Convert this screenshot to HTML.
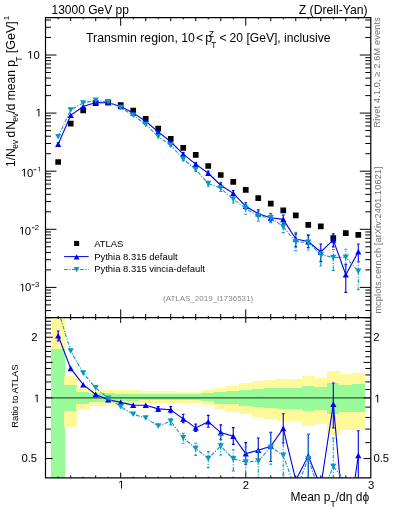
<!DOCTYPE html>
<html><head><meta charset="utf-8"><style>
html,body{margin:0;padding:0;background:#fff;width:393px;height:512px;overflow:hidden;}
#c{position:relative;width:393px;height:512px;font-family:"Liberation Sans", sans-serif;}
svg{will-change:transform;}
text{font-family:"Liberation Sans", sans-serif;}
</style></head><body><div id="c">
<svg width="393" height="512" viewBox="0 0 393 512" style="position:absolute;left:0;top:0">
<defs>
<clipPath id="cm"><rect x="45.5" y="17.55" width="325.3" height="300.05"/></clipPath>
<clipPath id="cr"><rect x="45.5" y="317.6" width="325.3" height="160.29999999999995"/></clipPath>
</defs>
<g clip-path="url(#cr)" shape-rendering="crispEdges">
<rect x="51.42" y="317.60" width="13.51" height="160.40" fill="#fff99c"/>
<rect x="51.42" y="349.00" width="13.51" height="129.00" fill="#98fa98"/>
<rect x="63.93" y="375.80" width="13.51" height="51.00" fill="#fff99c"/>
<rect x="63.93" y="385.30" width="13.51" height="25.20" fill="#98fa98"/>
<rect x="76.43" y="386.80" width="13.51" height="23.20" fill="#fff99c"/>
<rect x="76.43" y="392.10" width="13.51" height="11.50" fill="#98fa98"/>
<rect x="88.94" y="389.80" width="13.51" height="16.50" fill="#fff99c"/>
<rect x="88.94" y="392.90" width="13.51" height="9.20" fill="#98fa98"/>
<rect x="101.44" y="389.60" width="13.51" height="16.50" fill="#fff99c"/>
<rect x="101.44" y="393.00" width="13.51" height="8.50" fill="#98fa98"/>
<rect x="113.95" y="390.40" width="13.51" height="13.00" fill="#fff99c"/>
<rect x="113.95" y="393.50" width="13.51" height="7.10" fill="#98fa98"/>
<rect x="126.45" y="390.40" width="13.50" height="13.00" fill="#fff99c"/>
<rect x="126.45" y="393.50" width="13.50" height="7.10" fill="#98fa98"/>
<rect x="138.96" y="391.20" width="13.51" height="11.60" fill="#fff99c"/>
<rect x="138.96" y="393.80" width="13.51" height="6.40" fill="#98fa98"/>
<rect x="151.46" y="391.20" width="13.51" height="11.60" fill="#fff99c"/>
<rect x="151.46" y="393.80" width="13.51" height="6.40" fill="#98fa98"/>
<rect x="163.97" y="391.20" width="13.51" height="11.60" fill="#fff99c"/>
<rect x="163.97" y="393.80" width="13.51" height="6.40" fill="#98fa98"/>
<rect x="176.47" y="391.50" width="13.51" height="11.70" fill="#fff99c"/>
<rect x="176.47" y="394.20" width="13.51" height="6.00" fill="#98fa98"/>
<rect x="188.98" y="391.50" width="13.50" height="11.70" fill="#fff99c"/>
<rect x="188.98" y="394.20" width="13.50" height="6.00" fill="#98fa98"/>
<rect x="201.48" y="390.40" width="13.51" height="14.20" fill="#fff99c"/>
<rect x="201.48" y="393.00" width="13.51" height="8.40" fill="#98fa98"/>
<rect x="213.99" y="387.90" width="13.50" height="20.80" fill="#fff99c"/>
<rect x="213.99" y="392.20" width="13.50" height="11.50" fill="#98fa98"/>
<rect x="226.49" y="386.10" width="13.51" height="25.70" fill="#fff99c"/>
<rect x="226.49" y="390.70" width="13.51" height="13.70" fill="#98fa98"/>
<rect x="239.00" y="383.00" width="13.50" height="31.40" fill="#fff99c"/>
<rect x="239.00" y="389.50" width="13.50" height="16.50" fill="#98fa98"/>
<rect x="251.50" y="381.00" width="13.50" height="36.30" fill="#fff99c"/>
<rect x="251.50" y="389.30" width="13.50" height="17.70" fill="#98fa98"/>
<rect x="264.01" y="379.80" width="13.50" height="39.00" fill="#fff99c"/>
<rect x="264.01" y="388.20" width="13.50" height="19.40" fill="#98fa98"/>
<rect x="276.51" y="378.60" width="13.50" height="42.20" fill="#fff99c"/>
<rect x="276.51" y="388.20" width="13.50" height="20.30" fill="#98fa98"/>
<rect x="289.02" y="378.60" width="13.50" height="42.20" fill="#fff99c"/>
<rect x="289.02" y="388.20" width="13.50" height="20.30" fill="#98fa98"/>
<rect x="301.52" y="375.70" width="13.50" height="50.60" fill="#fff99c"/>
<rect x="301.52" y="385.90" width="13.50" height="24.60" fill="#98fa98"/>
<rect x="314.03" y="377.60" width="13.50" height="46.70" fill="#fff99c"/>
<rect x="314.03" y="386.70" width="13.50" height="23.30" fill="#98fa98"/>
<rect x="326.53" y="371.10" width="13.50" height="64.20" fill="#fff99c"/>
<rect x="326.53" y="383.10" width="13.50" height="31.10" fill="#98fa98"/>
<rect x="339.04" y="373.90" width="13.50" height="55.90" fill="#fff99c"/>
<rect x="339.04" y="384.90" width="13.50" height="27.50" fill="#98fa98"/>
<rect x="351.54" y="373.00" width="13.50" height="56.80" fill="#fff99c"/>
<rect x="351.54" y="384.00" width="13.50" height="28.40" fill="#98fa98"/>
</g>
<line x1="45.5" y1="397.90" x2="370.8" y2="397.90" stroke="#000" stroke-width="1" opacity="0.8"/>
<path d="M45.5 317.78h5.5M370.8 317.78h-5.5M45.5 310.52h5.5M370.8 310.52h-5.5M45.5 304.89h5.5M370.8 304.89h-5.5M45.5 300.29h5.5M370.8 300.29h-5.5M45.5 296.40h5.5M370.8 296.40h-5.5M45.5 293.03h5.5M370.8 293.03h-5.5M45.5 290.06h5.5M370.8 290.06h-5.5M45.5 287.40h11M370.8 287.40h-11M45.5 269.91h5.5M370.8 269.91h-5.5M45.5 259.68h5.5M370.8 259.68h-5.5M45.5 252.42h5.5M370.8 252.42h-5.5M45.5 246.79h5.5M370.8 246.79h-5.5M45.5 242.19h5.5M370.8 242.19h-5.5M45.5 238.30h5.5M370.8 238.30h-5.5M45.5 234.93h5.5M370.8 234.93h-5.5M45.5 231.96h5.5M370.8 231.96h-5.5M45.5 229.30h11M370.8 229.30h-11M45.5 211.81h5.5M370.8 211.81h-5.5M45.5 201.58h5.5M370.8 201.58h-5.5M45.5 194.32h5.5M370.8 194.32h-5.5M45.5 188.69h5.5M370.8 188.69h-5.5M45.5 184.09h5.5M370.8 184.09h-5.5M45.5 180.20h5.5M370.8 180.20h-5.5M45.5 176.83h5.5M370.8 176.83h-5.5M45.5 173.86h5.5M370.8 173.86h-5.5M45.5 171.20h11M370.8 171.20h-11M45.5 153.71h5.5M370.8 153.71h-5.5M45.5 143.48h5.5M370.8 143.48h-5.5M45.5 136.22h5.5M370.8 136.22h-5.5M45.5 130.59h5.5M370.8 130.59h-5.5M45.5 125.99h5.5M370.8 125.99h-5.5M45.5 122.10h5.5M370.8 122.10h-5.5M45.5 118.73h5.5M370.8 118.73h-5.5M45.5 115.76h5.5M370.8 115.76h-5.5M45.5 113.10h11M370.8 113.10h-11M45.5 95.61h5.5M370.8 95.61h-5.5M45.5 85.38h5.5M370.8 85.38h-5.5M45.5 78.12h5.5M370.8 78.12h-5.5M45.5 72.49h5.5M370.8 72.49h-5.5M45.5 67.89h5.5M370.8 67.89h-5.5M45.5 64.00h5.5M370.8 64.00h-5.5M45.5 60.63h5.5M370.8 60.63h-5.5M45.5 57.66h5.5M370.8 57.66h-5.5M45.5 55.00h11M370.8 55.00h-11M45.5 37.51h5.5M370.8 37.51h-5.5M45.5 27.28h5.5M370.8 27.28h-5.5M45.5 20.02h5.5M370.8 20.02h-5.5M45.5 458.56h7.2M370.8 458.56h-7.2M45.5 442.60h5.5M370.8 442.60h-5.5M45.5 429.11h5.5M370.8 429.11h-5.5M45.5 417.43h5.5M370.8 417.43h-5.5M45.5 407.12h5.5M370.8 407.12h-5.5M45.5 397.90h7.2M370.8 397.90h-7.2M45.5 389.56h5.5M370.8 389.56h-5.5M45.5 381.94h5.5M370.8 381.94h-5.5M45.5 374.94h5.5M370.8 374.94h-5.5M45.5 368.46h5.5M370.8 368.46h-5.5M45.5 362.42h7.2M370.8 362.42h-7.2M45.5 356.77h5.5M370.8 356.77h-5.5M45.5 351.46h5.5M370.8 351.46h-5.5M45.5 346.46h5.5M370.8 346.46h-5.5M45.5 341.73h5.5M370.8 341.73h-5.5M45.5 337.24h7.2M370.8 337.24h-7.2M45.5 332.97h5.5M370.8 332.97h-5.5M45.5 328.90h5.5M370.8 328.90h-5.5M45.5 325.01h5.5M370.8 325.01h-5.5M45.5 321.29h5.5M370.8 321.29h-5.5M58.18 17.55v1.8M58.18 317.6v-1.8M58.18 317.6v1.2M58.18 477.9v-1.2M70.68 17.55v3.6M70.68 317.6v-3.6M70.68 317.6v2.5M70.68 477.9v-2.5M83.19 17.55v1.8M83.19 317.6v-1.8M83.19 317.6v1.2M83.19 477.9v-1.2M95.69 17.55v3.6M95.69 317.6v-3.6M95.69 317.6v2.5M95.69 477.9v-2.5M108.20 17.55v1.8M108.20 317.6v-1.8M108.20 317.6v1.2M108.20 477.9v-1.2M120.70 17.55v8.2M120.70 317.6v-8.2M120.70 317.6v5.3M120.70 477.9v-5.3M133.21 17.55v1.8M133.21 317.6v-1.8M133.21 317.6v1.2M133.21 477.9v-1.2M145.71 17.55v3.6M145.71 317.6v-3.6M145.71 317.6v2.5M145.71 477.9v-2.5M158.22 17.55v1.8M158.22 317.6v-1.8M158.22 317.6v1.2M158.22 477.9v-1.2M170.72 17.55v3.6M170.72 317.6v-3.6M170.72 317.6v2.5M170.72 477.9v-2.5M183.22 17.55v1.8M183.22 317.6v-1.8M183.22 317.6v1.2M183.22 477.9v-1.2M195.73 17.55v3.6M195.73 317.6v-3.6M195.73 317.6v2.5M195.73 477.9v-2.5M208.24 17.55v1.8M208.24 317.6v-1.8M208.24 317.6v1.2M208.24 477.9v-1.2M220.74 17.55v3.6M220.74 317.6v-3.6M220.74 317.6v2.5M220.74 477.9v-2.5M233.25 17.55v1.8M233.25 317.6v-1.8M233.25 317.6v1.2M233.25 477.9v-1.2M245.75 17.55v8.2M245.75 317.6v-8.2M245.75 317.6v5.3M245.75 477.9v-5.3M258.25 17.55v1.8M258.25 317.6v-1.8M258.25 317.6v1.2M258.25 477.9v-1.2M270.76 17.55v3.6M270.76 317.6v-3.6M270.76 317.6v2.5M270.76 477.9v-2.5M283.26 17.55v1.8M283.26 317.6v-1.8M283.26 317.6v1.2M283.26 477.9v-1.2M295.77 17.55v3.6M295.77 317.6v-3.6M295.77 317.6v2.5M295.77 477.9v-2.5M308.27 17.55v1.8M308.27 317.6v-1.8M308.27 317.6v1.2M308.27 477.9v-1.2M320.78 17.55v3.6M320.78 317.6v-3.6M320.78 317.6v2.5M320.78 477.9v-2.5M333.29 17.55v1.8M333.29 317.6v-1.8M333.29 317.6v1.2M333.29 477.9v-1.2M345.79 17.55v3.6M345.79 317.6v-3.6M345.79 317.6v2.5M345.79 477.9v-2.5M358.29 17.55v1.8M358.29 317.6v-1.8M358.29 317.6v1.2M358.29 477.9v-1.2" stroke="#000" stroke-width="1" fill="none"/>
<g clip-path="url(#cm)">
<path d="M55.33 159.15h5.7v5.7h-5.7ZM67.83 120.85h5.7v5.7h-5.7ZM80.34 107.55h5.7v5.7h-5.7ZM92.84 100.35h5.7v5.7h-5.7ZM105.35 99.35h5.7v5.7h-5.7ZM117.85 102.35h5.7v5.7h-5.7ZM130.36 107.85h5.7v5.7h-5.7ZM142.86 116.05h5.7v5.7h-5.7ZM155.37 125.85h5.7v5.7h-5.7ZM167.87 136.05h5.7v5.7h-5.7ZM180.38 144.95h5.7v5.7h-5.7ZM192.88 152.05h5.7v5.7h-5.7ZM205.39 163.15h5.7v5.7h-5.7ZM217.89 172.15h5.7v5.7h-5.7ZM230.40 179.05h5.7v5.7h-5.7ZM242.90 186.95h5.7v5.7h-5.7ZM255.41 195.35h5.7v5.7h-5.7ZM267.91 200.75h5.7v5.7h-5.7ZM280.41 207.55h5.7v5.7h-5.7ZM292.92 212.45h5.7v5.7h-5.7ZM305.42 221.95h5.7v5.7h-5.7ZM317.93 223.55h5.7v5.7h-5.7ZM330.44 235.35h5.7v5.7h-5.7ZM342.94 230.25h5.7v5.7h-5.7ZM355.44 232.05h5.7v5.7h-5.7Z" fill="#000"/>
<polyline points="58.18,144.20 70.68,115.30 83.19,106.55 95.69,102.45 108.20,102.75 120.70,106.50 133.21,112.89 145.71,121.22 158.22,131.94 170.72,141.77 183.22,154.18 195.73,164.18 208.24,173.23 220.74,185.20 233.25,193.32 245.75,206.23 258.25,213.80 270.76,217.83 283.26,219.35 295.77,239.00 308.27,241.58 320.78,252.00 333.29,239.89 345.79,274.80 358.29,251.75" fill="none" stroke="#0000ee" stroke-width="1.1"/>
<path d="M58.18 144.20V142.71M58.18 144.20V145.59M56.78 142.71h2.8M56.78 145.59h2.8M158.22 131.94V131.21M158.22 131.94V132.62M156.81 131.21h2.8M156.81 132.62h2.8M170.72 141.77V141.41M170.72 141.77V143.17M169.32 141.41h2.8M169.32 143.17h2.8M183.22 154.18V152.53M183.22 154.18V154.95M181.82 152.53h2.8M181.82 154.95h2.8M195.73 164.18V162.45M195.73 164.18V164.59M194.33 162.45h2.8M194.33 164.59h2.8M208.24 173.23V171.05M208.24 173.23V174.48M206.84 171.05h2.8M206.84 174.48h2.8M220.74 185.20V182.79M220.74 185.20V187.08M219.34 182.79h2.8M219.34 187.08h2.8M233.25 193.32V190.46M233.25 193.32V195.31M231.84 190.46h2.8M231.84 195.31h2.8M245.75 206.23V202.69M245.75 206.23V208.95M244.35 202.69h2.8M244.35 208.95h2.8M258.25 213.80V209.76M258.25 213.80V216.54M256.86 209.76h2.8M256.86 216.54h2.8M270.76 217.83V213.49M270.76 217.83V221.94M269.36 213.49h2.8M269.36 221.94h2.8M283.26 219.35V214.98M283.26 219.35V223.40M281.87 214.98h2.8M281.87 223.40h2.8M295.77 239.00V233.90M295.77 239.00V246.90M294.37 233.90h2.8M294.37 246.90h2.8M308.27 241.58V235.50M308.27 241.58V247.70M306.88 235.50h2.8M306.88 247.70h2.8M320.78 252.00V244.00M320.78 252.00V261.60M319.38 244.00h2.8M319.38 261.60h2.8M333.29 239.89V233.90M333.29 239.89V246.88M331.89 233.90h2.8M331.89 246.88h2.8M345.79 274.80V264.30M345.79 274.80V292.40M344.39 264.30h2.8M344.39 292.40h2.8M358.29 251.75V244.00M358.29 251.75V261.60M356.89 244.00h2.8M356.89 261.60h2.8" stroke="#0000ee" stroke-width="1.1" fill="none"/>
<path d="M55.08 147.00L61.28 147.00L58.18 141.40ZM67.58 118.10L73.78 118.10L70.68 112.50ZM80.09 109.35L86.28 109.35L83.19 103.75ZM92.59 105.25L98.79 105.25L95.69 99.65ZM105.10 105.55L111.30 105.55L108.20 99.95ZM117.60 109.30L123.80 109.30L120.70 103.70ZM130.11 115.69L136.31 115.69L133.21 110.09ZM142.61 124.02L148.81 124.02L145.71 118.42ZM155.12 134.74L161.31 134.74L158.22 129.14ZM167.62 144.57L173.82 144.57L170.72 138.97ZM180.12 156.98L186.32 156.98L183.22 151.38ZM192.63 166.98L198.83 166.98L195.73 161.38ZM205.14 176.03L211.34 176.03L208.24 170.43ZM217.64 188.00L223.84 188.00L220.74 182.40ZM230.15 196.12L236.34 196.12L233.25 190.52ZM242.65 209.03L248.85 209.03L245.75 203.43ZM255.16 216.60L261.36 216.60L258.25 211.00ZM267.66 220.63L273.86 220.63L270.76 215.03ZM280.16 222.15L286.37 222.15L283.26 216.55ZM292.67 241.80L298.87 241.80L295.77 236.20ZM305.17 244.38L311.38 244.38L308.27 238.78ZM317.68 254.80L323.88 254.80L320.78 249.20ZM330.19 242.69L336.39 242.69L333.29 237.09ZM342.69 277.60L348.89 277.60L345.79 272.00ZM355.19 254.55L361.39 254.55L358.29 248.95Z" fill="#0000ee"/>
<polyline points="58.18,136.80 70.68,109.94 83.19,102.97 95.69,100.41 108.20,101.89 120.70,107.65 133.21,115.31 145.71,124.55 158.22,136.60 170.72,145.12 183.22,159.00 195.73,169.44 208.24,183.49 220.74,188.28 233.25,199.24 245.75,208.39 258.25,216.10 270.76,217.71 283.26,226.69 295.77,241.90 308.27,242.36 320.78,254.60 333.29,257.59 345.79,257.20 358.29,271.30" fill="none" stroke="#0a98bf" stroke-width="1.1" stroke-dasharray="3.8 1.5 1.2 1.5"/>
<path d="M170.72 145.12V144.93M170.72 145.12V146.69M169.32 144.93h2.8M169.32 146.69h2.8M183.22 159.00V158.01M183.22 159.00V160.86M181.82 158.01h2.8M181.82 160.86h2.8M195.73 169.44V167.96M195.73 169.44V171.48M194.33 167.96h2.8M194.33 171.48h2.8M208.24 183.49V181.48M208.24 183.49V186.10M206.84 181.48h2.8M206.84 186.10h2.8M220.74 188.28V185.55M220.74 188.28V191.46M219.34 185.55h2.8M219.34 191.46h2.8M233.25 199.24V196.86M233.25 199.24V202.98M231.84 196.86h2.8M231.84 202.98h2.8M245.75 208.39V204.40M245.75 208.39V214.30M244.35 204.40h2.8M244.35 214.30h2.8M258.25 216.10V211.20M258.25 216.10V221.10M256.86 211.20h2.8M256.86 221.10h2.8M270.76 217.71V213.72M270.76 217.71V222.75M269.36 213.72h2.8M269.36 222.75h2.8M283.26 226.69V222.25M283.26 226.69V232.63M281.87 222.25h2.8M281.87 232.63h2.8M295.77 241.90V232.40M295.77 241.90V250.70M294.37 232.40h2.8M294.37 250.70h2.8M308.27 242.36V234.50M308.27 242.36V250.00M306.88 234.50h2.8M306.88 250.00h2.8M320.78 254.60V249.30M320.78 254.60V266.00M319.38 249.30h2.8M319.38 266.00h2.8M333.29 257.59V249.50M333.29 257.59V270.40M331.89 249.50h2.8M331.89 270.40h2.8M345.79 257.20V249.30M345.79 257.20V266.00M344.39 249.30h2.8M344.39 266.00h2.8M358.29 271.30V261.60M358.29 271.30V289.80M356.89 261.60h2.8M356.89 289.80h2.8" stroke="#0a98bf" stroke-width="1.1" fill="none" stroke-dasharray="3.8 1.5 1.2 1.5"/>
<path d="M55.08 134.00L61.28 134.00L58.18 139.60ZM67.58 107.14L73.78 107.14L70.68 112.74ZM80.09 100.17L86.28 100.17L83.19 105.77ZM92.59 97.61L98.79 97.61L95.69 103.21ZM105.10 99.09L111.30 99.09L108.20 104.69ZM117.60 104.85L123.80 104.85L120.70 110.45ZM130.11 112.51L136.31 112.51L133.21 118.11ZM142.61 121.75L148.81 121.75L145.71 127.35ZM155.12 133.80L161.31 133.80L158.22 139.40ZM167.62 142.32L173.82 142.32L170.72 147.92ZM180.12 156.20L186.32 156.20L183.22 161.80ZM192.63 166.64L198.83 166.64L195.73 172.24ZM205.14 180.69L211.34 180.69L208.24 186.29ZM217.64 185.48L223.84 185.48L220.74 191.08ZM230.15 196.44L236.34 196.44L233.25 202.04ZM242.65 205.59L248.85 205.59L245.75 211.19ZM255.16 213.30L261.36 213.30L258.25 218.90ZM267.66 214.91L273.86 214.91L270.76 220.51ZM280.16 223.89L286.37 223.89L283.26 229.49ZM292.67 239.10L298.87 239.10L295.77 244.70ZM305.17 239.56L311.38 239.56L308.27 245.16ZM317.68 251.80L323.88 251.80L320.78 257.40ZM330.19 254.79L336.39 254.79L333.29 260.39ZM342.69 254.40L348.89 254.40L345.79 260.00ZM355.19 268.50L361.39 268.50L358.29 274.10Z" fill="#0a98bf"/>
</g>
<g clip-path="url(#cr)">
<polyline points="58.18,335.80 70.68,368.40 83.19,384.70 95.69,394.40 108.20,399.80 120.70,402.40 133.21,405.10 145.71,405.30 158.22,408.90 170.72,409.80 183.22,418.90 195.73,427.90 208.24,421.70 220.74,432.60 233.25,436.20 245.75,453.60 258.25,450.30 270.76,446.30 283.26,428.40 295.77,480.10 308.27,456.00 320.78,486.68 333.29,404.10 345.79,542.52 358.29,455.50" fill="none" stroke="#0000ee" stroke-width="1.1"/>
<path d="M58.18 335.80V331.00M58.18 335.80V341.00M56.78 331.00h2.8M56.78 341.00h2.8M158.22 408.90V406.60M158.22 408.90V411.50M156.81 406.60h2.8M156.81 411.50h2.8M170.72 409.80V406.60M170.72 409.80V412.70M169.32 406.60h2.8M169.32 412.70h2.8M183.22 418.90V414.30M183.22 418.90V422.70M181.82 414.30h2.8M181.82 422.70h2.8M195.73 427.90V424.10M195.73 427.90V431.50M194.33 424.10h2.8M194.33 431.50h2.8M208.24 421.70V415.40M208.24 421.70V427.30M206.84 415.40h2.8M206.84 427.30h2.8M220.74 432.60V424.90M220.74 432.60V439.80M219.34 424.90h2.8M219.34 439.80h2.8M233.25 436.20V427.60M233.25 436.20V444.40M231.84 427.60h2.8M231.84 444.40h2.8M245.75 453.60V442.60M245.75 453.60V464.30M244.35 442.60h2.8M244.35 464.30h2.8M258.25 450.30V438.00M258.25 450.30V461.50M256.86 438.00h2.8M256.86 461.50h2.8M270.76 446.30V432.20M270.76 446.30V461.50M269.36 432.20h2.8M269.36 461.50h2.8M283.26 428.40V413.80M283.26 428.40V443.00M281.87 413.80h2.8M281.87 443.00h2.8M308.27 456.00V434.40M308.27 456.00V490.00M306.88 434.40h2.8M306.88 490.00h2.8M333.29 404.10V383.00M333.29 404.10V428.00M331.89 383.00h2.8M331.89 428.00h2.8M358.29 455.50V430.70M358.29 455.50V490.00M356.89 430.70h2.8M356.89 490.00h2.8" stroke="#0000ee" stroke-width="1.1" fill="none"/>
<path d="M55.08 338.60L61.28 338.60L58.18 333.00ZM67.58 371.20L73.78 371.20L70.68 365.60ZM80.09 387.50L86.28 387.50L83.19 381.90ZM92.59 397.20L98.79 397.20L95.69 391.60ZM105.10 402.60L111.30 402.60L108.20 397.00ZM117.60 405.20L123.80 405.20L120.70 399.60ZM130.11 407.90L136.31 407.90L133.21 402.30ZM142.61 408.10L148.81 408.10L145.71 402.50ZM155.12 411.70L161.31 411.70L158.22 406.10ZM167.62 412.60L173.82 412.60L170.72 407.00ZM180.12 421.70L186.32 421.70L183.22 416.10ZM192.63 430.70L198.83 430.70L195.73 425.10ZM205.14 424.50L211.34 424.50L208.24 418.90ZM217.64 435.40L223.84 435.40L220.74 429.80ZM230.15 439.00L236.34 439.00L233.25 433.40ZM242.65 456.40L248.85 456.40L245.75 450.80ZM255.16 453.10L261.36 453.10L258.25 447.50ZM267.66 449.10L273.86 449.10L270.76 443.50ZM280.16 431.20L286.37 431.20L283.26 425.60ZM292.67 482.90L298.87 482.90L295.77 477.30ZM305.17 458.80L311.38 458.80L308.27 453.20ZM317.68 489.48L323.88 489.48L320.78 483.88ZM330.19 406.90L336.39 406.90L333.29 401.30ZM342.69 545.32L348.89 545.32L345.79 539.72ZM355.19 458.30L361.39 458.30L358.29 452.70Z" fill="#0000ee"/>
<polyline points="58.18,310.50 70.68,351.00 83.19,373.10 95.69,387.90 108.20,398.20 120.70,406.60 133.21,414.30 145.71,418.00 158.22,426.00 170.72,421.30 183.22,437.80 195.73,448.50 208.24,458.50 220.74,446.00 233.25,458.90 245.75,462.00 258.25,461.00 270.76,447.20 283.26,455.40 295.77,490.15 308.27,458.80 320.78,495.70 333.29,466.50 345.79,481.48 358.29,524.14" fill="none" stroke="#0a98bf" stroke-width="1.1" stroke-dasharray="3.8 1.5 1.2 1.5"/>
<path d="M170.72 421.30V418.80M170.72 421.30V424.90M169.32 418.80h2.8M169.32 424.90h2.8M183.22 437.80V433.30M183.22 437.80V443.20M181.82 433.30h2.8M181.82 443.20h2.8M195.73 448.50V443.20M195.73 448.50V455.40M194.33 443.20h2.8M194.33 455.40h2.8M208.24 458.50V451.60M208.24 458.50V467.60M206.84 451.60h2.8M206.84 467.60h2.8M220.74 446.00V434.50M220.74 446.00V455.00M219.34 434.50h2.8M219.34 455.00h2.8M233.25 458.90V449.80M233.25 458.90V471.00M231.84 449.80h2.8M231.84 471.00h2.8M245.75 462.00V447.00M245.75 462.00V490.00M244.35 447.00h2.8M244.35 490.00h2.8M258.25 461.00V450.50M258.25 461.00V490.00M256.86 450.50h2.8M256.86 490.00h2.8M270.76 447.20V433.00M270.76 447.20V464.30M269.36 433.00h2.8M269.36 464.30h2.8M283.26 455.40V439.00M283.26 455.40V475.00M281.87 439.00h2.8M281.87 475.00h2.8M308.27 458.80V434.40M308.27 458.80V490.00M306.88 434.40h2.8M306.88 490.00h2.8M333.29 466.50V438.00M333.29 466.50V490.00M331.89 438.00h2.8M331.89 490.00h2.8" stroke="#0a98bf" stroke-width="1.1" fill="none" stroke-dasharray="3.8 1.5 1.2 1.5"/>
<path d="M55.08 307.70L61.28 307.70L58.18 313.30ZM67.58 348.20L73.78 348.20L70.68 353.80ZM80.09 370.30L86.28 370.30L83.19 375.90ZM92.59 385.10L98.79 385.10L95.69 390.70ZM105.10 395.40L111.30 395.40L108.20 401.00ZM117.60 403.80L123.80 403.80L120.70 409.40ZM130.11 411.50L136.31 411.50L133.21 417.10ZM142.61 415.20L148.81 415.20L145.71 420.80ZM155.12 423.20L161.31 423.20L158.22 428.80ZM167.62 418.50L173.82 418.50L170.72 424.10ZM180.12 435.00L186.32 435.00L183.22 440.60ZM192.63 445.70L198.83 445.70L195.73 451.30ZM205.14 455.70L211.34 455.70L208.24 461.30ZM217.64 443.20L223.84 443.20L220.74 448.80ZM230.15 456.10L236.34 456.10L233.25 461.70ZM242.65 459.20L248.85 459.20L245.75 464.80ZM255.16 458.20L261.36 458.20L258.25 463.80ZM267.66 444.40L273.86 444.40L270.76 450.00ZM280.16 452.60L286.37 452.60L283.26 458.20ZM292.67 487.35L298.87 487.35L295.77 492.95ZM305.17 456.00L311.38 456.00L308.27 461.60ZM317.68 492.90L323.88 492.90L320.78 498.50ZM330.19 463.70L336.39 463.70L333.29 469.30ZM342.69 478.68L348.89 478.68L345.79 484.28ZM355.19 521.34L361.39 521.34L358.29 526.94Z" fill="#0a98bf"/>
</g>
<path d="M45.5 17.55H370.8V477.9H45.5Z M45.5 317.6H370.8" stroke="#000" stroke-width="1.2" fill="none"/>
<rect x="74.1" y="240.9" width="5.1" height="5.1" fill="#000"/>
<line x1="64.1" y1="256.6" x2="88.7" y2="256.6" stroke="#0000ee" stroke-width="1"/>
<path d="M73.70 259.40L79.50 259.40L76.60 254.20Z" fill="#0000ee"/>
<line x1="64.1" y1="269.5" x2="88.7" y2="269.5" stroke="#0a98bf" stroke-width="1" stroke-dasharray="3.8 1.5 1.2 1.5"/>
<path d="M73.70 267.00L79.50 267.00L76.60 272.20Z" fill="#0a98bf"/>
</svg>
<svg width="393" height="512" viewBox="0 0 393 512" style="position:absolute;left:0;top:0"><text x="51.5" y="13.8" font-size="12" text-anchor="start" fill="#000" >13000 GeV pp</text>
<text x="367.6" y="13.9" font-size="12.2" text-anchor="end" fill="#000" >Z (Drell-Yan)</text>
<text x="86.0" y="41.9" font-size="12.3">Transmin region, 10</text>
<text x="196.1" y="41.9" font-size="12.3">&lt;</text>
<text x="205.3" y="41.9" font-size="12.3">p</text>
<text x="209.1" y="36.7" font-size="8.2">Z</text>
<text x="211.3" y="48.4" font-size="8.2">T</text>
<text x="219.5" y="41.9" font-size="12.3">&lt;</text>
<text x="229.6" y="41.9" font-size="12.1">20 [GeV], inclusive</text>
<path d="M30.10 58.80L30.10 51.97L28.35 53.23L28.35 52.29L30.18 51.03L31.10 51.03L31.10 58.80Z" fill="#000"/>
<text x="33.56" y="58.8" font-size="11.3" text-anchor="start" fill="#000" >0</text>
<path d="M38.40 116.60L38.40 109.77L36.65 111.03L36.65 110.09L38.48 108.83L39.40 108.83L39.40 116.60Z" fill="#000"/>
<path d="M23.90 176.60L23.90 169.77L22.15 171.03L22.15 170.09L23.98 168.83L24.90 168.83L24.90 176.60Z" fill="#000"/>
<text x="27.1" y="176.6" font-size="11.3" text-anchor="start" fill="#000" >0</text>
<rect x="33.6" y="169.38" width="2.70" height="0.85" fill="#000"/>
<path d="M39.29 171.60L39.29 167.31L38.18 168.10L38.18 167.51L39.34 166.72L39.91 166.72L39.91 171.60Z" fill="#000"/>
<path d="M21.90 234.60L21.90 227.77L20.15 229.03L20.15 228.09L21.98 226.83L22.90 226.83L22.90 234.60Z" fill="#000"/>
<text x="24.66" y="234.6" font-size="11.3" text-anchor="start" fill="#000" >0</text>
<rect x="31.8" y="227.38" width="2.80" height="0.85" fill="#000"/>
<text x="34.82" y="229.7" font-size="7.6" text-anchor="start" fill="#000" >2</text>
<path d="M22.20 291.40L22.20 284.57L20.45 285.83L20.45 284.89L22.28 283.63L23.20 283.63L23.20 291.40Z" fill="#000"/>
<text x="24.96" y="291.4" font-size="11.3" text-anchor="start" fill="#000" >0</text>
<rect x="31.8" y="284.47" width="2.80" height="0.85" fill="#000"/>
<text x="34.9" y="286.6" font-size="7.6" text-anchor="start" fill="#000" >3</text>
<text x="31.23" y="340.8" font-size="11.3" text-anchor="start" fill="#000" >2</text>
<path d="M36.70 402.20L36.70 395.37L34.95 396.63L34.95 395.69L36.78 394.43L37.70 394.43L37.70 402.20Z" fill="#000"/>
<text x="21.46" y="462.3" font-size="11.3" text-anchor="start" fill="#000" >0.5</text>
<text x="373.33" y="340.6" font-size="11.3" text-anchor="start" fill="#000" >2</text>
<path d="M377.20 402.60L377.20 395.77L375.45 397.03L375.45 396.09L377.28 394.83L378.20 394.83L378.20 402.60Z" fill="#000"/>
<text x="373.46" y="462.3" font-size="11.3" text-anchor="start" fill="#000" >0.5</text>
<path d="M121.00 488.60L121.00 481.77L119.25 483.03L119.25 482.09L121.08 480.83L122.00 480.83L122.00 488.60Z" fill="#000"/>
<text x="242.73" y="488.8" font-size="11.3" text-anchor="start" fill="#000" >2</text>
<text x="368.07" y="488.8" font-size="11.3" text-anchor="start" fill="#000" >3</text>
<text x="290.5" y="501" font-size="12">Mean p<tspan font-size="8.5" dy="6">T</tspan><tspan dy="-6">/d&#951; d&#981;</tspan></text>
<text transform="translate(15.2,167.0) rotate(-90)" font-size="12" fill="#000">1/N</text>
<text transform="translate(18.4,148.65) rotate(-90)" font-size="8.2" fill="#000">ev</text>
<text transform="translate(15.2,137.5) rotate(-90)" font-size="12" fill="#000">d</text>
<text transform="translate(15.2,129.7) rotate(-90)" font-size="12" fill="#000">N</text>
<text transform="translate(18.4,121.7) rotate(-90)" font-size="8.2" fill="#000">ev</text>
<text transform="translate(15.2,113.5) rotate(-90)" font-size="12" fill="#000">/d</text>
<text transform="translate(15.2,100.2) rotate(-90)" font-size="12" fill="#000">mean</text>
<text transform="translate(15.2,66.8) rotate(-90)" font-size="12" fill="#000">p</text>
<text transform="translate(21.6,61.8) rotate(-90)" font-size="8.5" fill="#000">T</text>
<text transform="translate(15.2,53.2) rotate(-90)" font-size="12.5" fill="#000">[GeV]</text>
<text transform="translate(8.9,20.3) rotate(-90)" font-size="8" fill="#000">1</text>
<text transform="translate(18.4,427.8) rotate(-90)" font-size="9.4" fill="#000">Ratio to ATLAS</text>
<text x="94.2" y="246.8" font-size="9.45" text-anchor="start" fill="#000" >ATLAS</text>
<text x="94.2" y="259.6" font-size="9.45" text-anchor="start" fill="#000" >Pythia 8.315 default</text>
<text x="94.2" y="272.4" font-size="9.45" text-anchor="start" fill="#000" >Pythia 8.315 vincia-default</text>
<text x="163.0" y="301.0" font-size="8.0" text-anchor="start" fill="#888" >(ATLAS_2019_I1736531)</text>
<text transform="translate(380.2,127.4) rotate(-90)" font-size="9.1" fill="#707070" textLength="110.2" lengthAdjust="spacing">Rivet 4.1.0, &#8805; 2.6M events</text>
<text transform="translate(380.8,313.6) rotate(-90)" font-size="9.1" fill="#707070" textLength="147.2" lengthAdjust="spacing">mcplots.cern.ch [arXiv:2401.10621]</text></svg>
</div></body></html>
